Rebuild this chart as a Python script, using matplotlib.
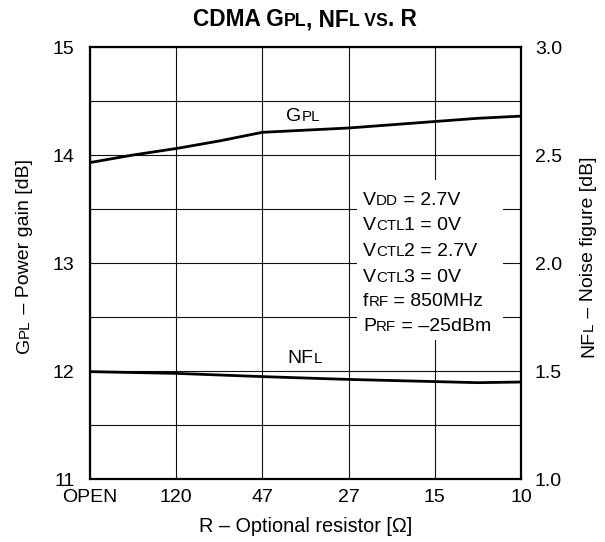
import numpy as np
import matplotlib.pyplot as plt
from matplotlib.patches import Rectangle
from matplotlib.transforms import Bbox

plt.rcParams['font.family'] = ['Liberation Sans', 'DejaVu Sans']

# data
categories = ['OPEN', '120', '47', '27', '15', '10']
gpl_x = [0, 0.5, 1, 1.5, 2, 2.5, 3, 3.5, 4, 4.5, 5]
gpl = [13.93, 14.00, 14.06, 14.13, 14.21, 14.23, 14.25, 14.28, 14.31, 14.34, 14.36]
nfl_x = [0, 1, 2, 3, 4, 4.5, 5]
nfl = [1.497, 1.489, 1.474, 1.461, 1.451, 1.446, 1.449]
gpl_ticks = [11, 12, 13, 14, 15]
nfl_ticks = [1.0, 1.5, 2.0, 2.5, 3.0]
conditions = [('V', 'DD', ' = 2.7V'),
              ('V', 'CTL', '1 = 0V'),
              ('V', 'CTL', '2 = 2.7V'),
              ('V', 'CTL', '3 = 0V'),
              ('f', 'RF', ' = 850MHz'),
              ('P', 'RF', ' = \u201325dBm')]

FS = 14
SMALL = 0.78
W, H = 605, 542

fig = plt.figure(figsize=(W / 100, H / 100), dpi=100)
ax = fig.add_axes([90 / W, 1 - 479 / H, 431 / W, 432 / H])
ft = fig.transFigure


def rich(parts, x, y, size=FS, rotation=0, weight='normal', center=True):
    # parts: list of (text, small?) sharing one baseline, x/y in figure fraction
    arts = []
    for s, small in parts:
        arts.append(fig.text(x, y, s, transform=ft, ha='left', va='baseline',
                             rotation=rotation, rotation_mode='anchor', weight=weight,
                             fontsize=size * (SMALL if small else 1)))
    fig.canvas.draw()
    r = fig.canvas.get_renderer()
    x0, y0 = ft.transform((x, y))
    pos = 0.0
    starts = []
    for a in arts:
        bb = a.get_window_extent(r)
        starts.append(pos)
        pos += bb.height if rotation else bb.width
    shift = pos / 2 if center else 0.0
    for a, p in zip(arts, starts):
        if rotation:
            a.set_position(ft.inverted().transform((x0, y0 + p - shift)))
        else:
            a.set_position(ft.inverted().transform((x0 + p - shift, y0)))
    return arts


ax.set_axisbelow(True)
ax.plot(gpl_x, gpl, color='black', lw=2.0, solid_capstyle='butt', zorder=3)
ax.set_xlim(0, 5)
ax.set_ylim(11, 15)
ax.set_xticks(range(len(categories)))
ax.set_xticklabels(categories, fontsize=FS)
ax.set_yticks(gpl_ticks)
ax.set_yticklabels([str(v) for v in gpl_ticks], fontsize=FS)
ax.set_yticks(np.arange(11, 15, 0.5), minor=True)
ax.grid(True, which='both', color='#111111', lw=0.8)
ax.tick_params(which='both', length=0)
ax.tick_params(axis='y', pad=11)
ax.tick_params(axis='x', pad=7)
for s in ax.spines.values():
    s.set_linewidth(1.6)
ax.set_xlabel('R \u2013 Optional resistor [\u03a9]', fontsize=14.3, labelpad=8)

ax2 = ax.twinx()
ax2.plot(nfl_x, nfl, color='black', lw=2.0, solid_capstyle='butt', zorder=3)
ax2.set_ylim(1, 3)
ax2.set_yticks(nfl_ticks)
ax2.set_yticklabels(['%.1f' % v for v in nfl_ticks], fontsize=FS)
ax2.tick_params(length=0, pad=10)
for s in ax2.spines.values():
    s.set_visible(False)

# white box behind the test conditions
ax.add_patch(Rectangle((0.62, 0.322), 0.338, 0.37, transform=ax.transAxes,
                       facecolor='white', edgecolor='none', zorder=1))

baselines = [205, 230, 256, 281.5, 306, 331]
for (a, b, c), yb in zip(conditions, baselines):
    rich([(a, False), (b, True), (c, False)], 363 / W, 1 - yb / H, center=False)

rich([('G', False), ('PL', True)], 303 / W, 1 - 121 / H)
rich([('NF', False), ('L', True)], 305 / W, 1 - 363 / H)
rich([('CDMA G', False), ('PL', True), (', NF', False), ('L VS', True), ('. R', False)],
     305 / W, 1 - 26 / H, size=16.3, weight='bold')
rich([('G', False), ('PL', True), (' \u2013 Power gain [dB]', False)], 29 / W, 1 - 256 / H, rotation=90)
rich([('NF', False), ('L', True), (' \u2013 Noise figure [dB]', False)], 593 / W, 1 - 257 / H, rotation=90)

fig.savefig('out.png', dpi=100)
